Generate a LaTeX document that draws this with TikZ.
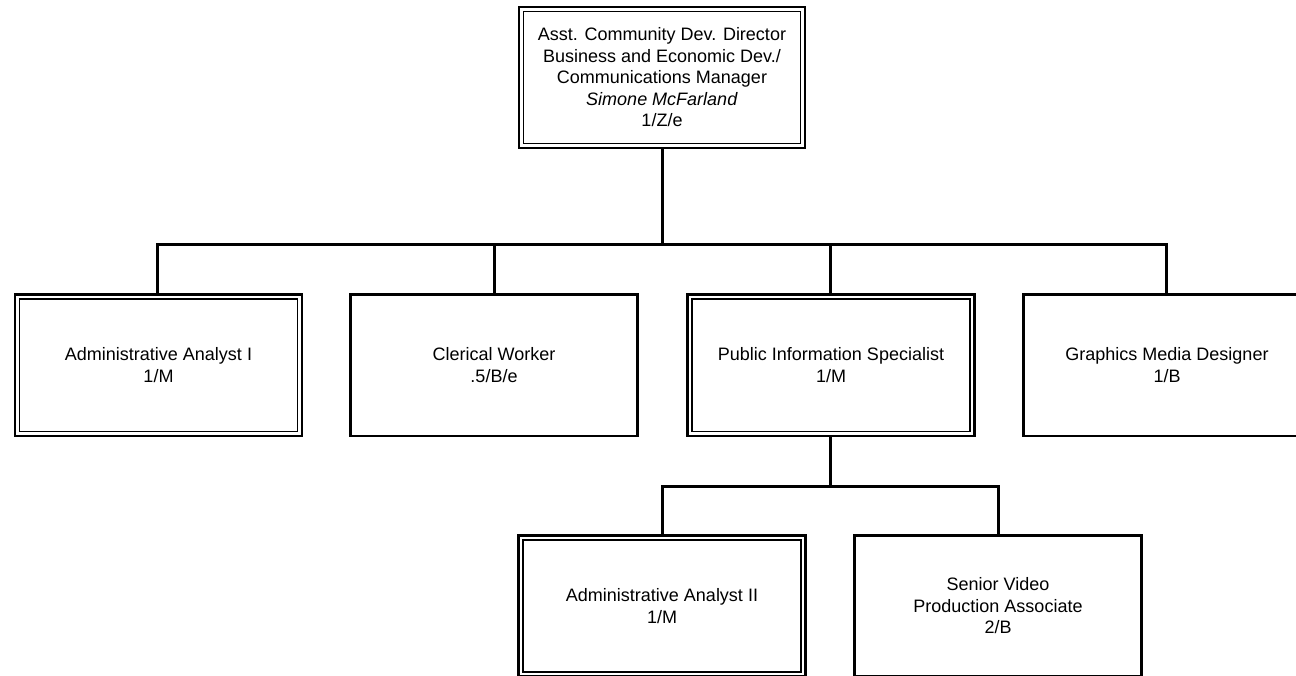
\documentclass[tikz,border=0pt]{standalone}
\usepackage{fontspec}
\setmainfont{Liberation Sans}
\begin{document}
\begin{tikzpicture}[x=1pt,y=-1pt,
  box/.style={draw=black, line width=2.7pt, minimum width=287pt, minimum height=141.5pt,
    inner sep=0pt, align=center, font=\fontsize{18}{21.5}\selectfont, fill=white},
  dblbox/.style={box, path picture={\draw[line width=1.8pt]
      ([shift={(4.5pt,-4.5pt)}]path picture bounding box.north west) rectangle
      ([shift={(-4.5pt,4.5pt)}]path picture bounding box.south east);}},
  conn/.style={draw=black, line width=3pt, line join=miter}]
\useasboundingbox (0,0) rectangle (1296,676);
\clip (0,0) rectangle (1296,676);

\node[dblbox, minimum width=286pt, minimum height=141pt] (top) at (662,77.5)
  {Asst. Community Dev. Director\\Business and Economic Dev./\\Communications Manager\\\textit{Simone McFarland}\\1/Z/e};

\node[dblbox] (a1) at (158.5,365.3) {Administrative Analyst I\\1/M};
\node[box] (a2) at (494,365.3) {Clerical Worker\\.5/B/e};
\node[dblbox] (a3) at (831,365.3) {Public Information Specialist\\1/M};
\node[box] (a4) at (1167,365.3) {Graphics Media Designer\\1/B};

\node[dblbox] (b1) at (662,606) {Administrative Analyst II\\1/M};
\node[box] (b2) at (998,606) {Senior Video\\Production Associate\\2/B};

\coordinate (bus) at (662,245);
\coordinate (k1) at (157,245);
\coordinate (k2) at (494,245);
\coordinate (k3) at (830,245);
\coordinate (k4) at (1166,245);
\coordinate (bus2) at (830,486);
\coordinate (m1) at (662,486);
\coordinate (m2) at (998,486);

\draw[conn] (top.south) -- (bus);
\draw[conn] (a1.north -| k1) -- (k1) -- (k4) -- (a4.north -| k4);
\draw[conn] (a2.north) -- (k2);
\draw[conn] (a3.north -| k3) -- (k3);
\draw[conn] (a3.south -| bus2) -- (bus2);
\draw[conn] (b1.north) -- (m1) -- (m2) -- (b2.north);
\end{tikzpicture}
\end{document}
